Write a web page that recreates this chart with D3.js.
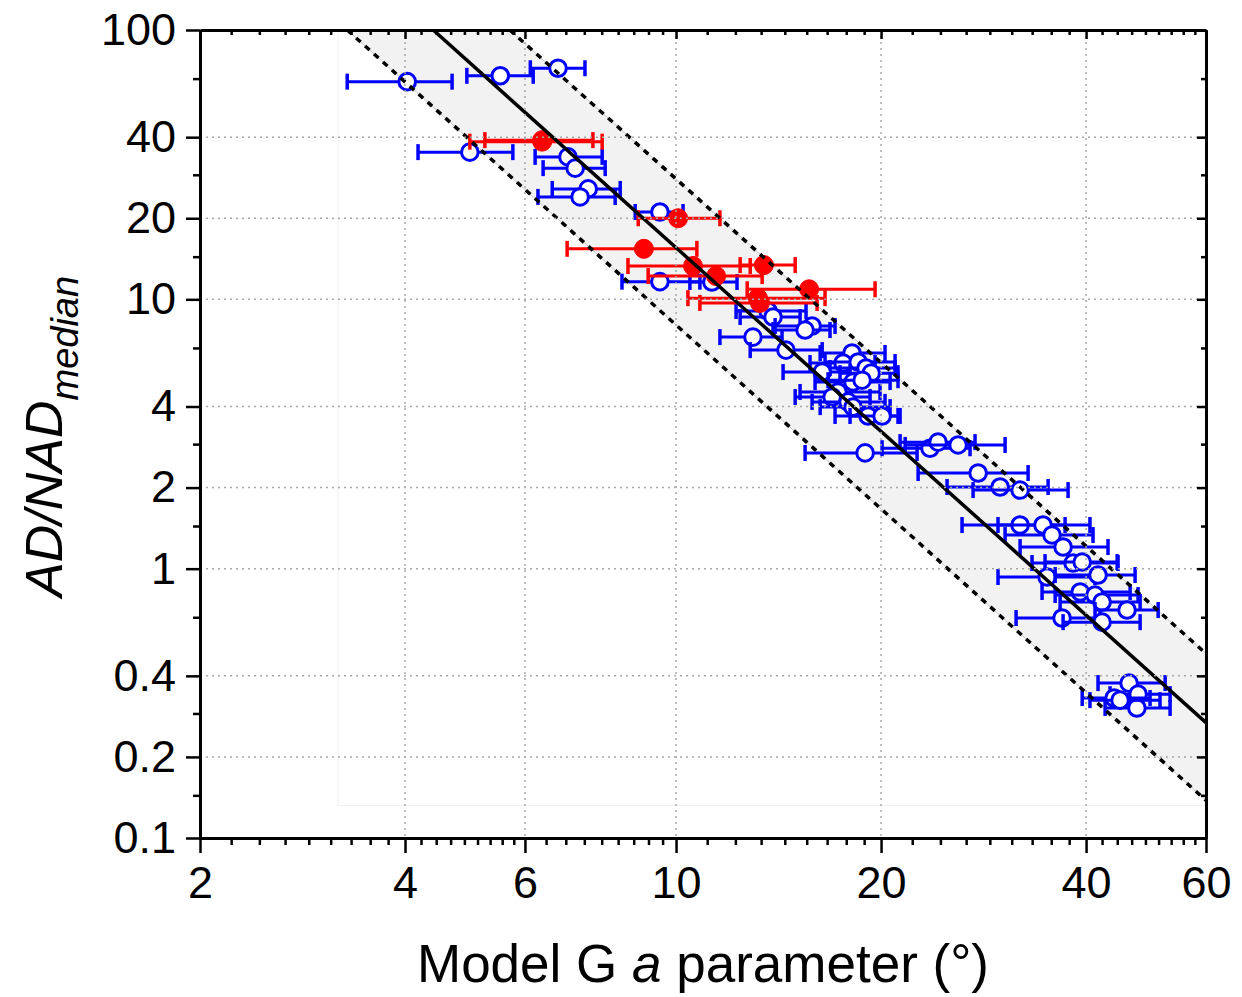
<!DOCTYPE html>
<html>
<head>
<meta charset="utf-8">
<title>AD/NAD vs Model G a</title>
<script src="https://d3js.org/d3.v7.min.js"></script>
<style>
  body { margin: 0; background: #fff; }
  svg { font-family: "Liberation Sans", Arial, sans-serif; }
</style>
</head>
<body>
<svg width="1242" height="997"></svg>
<script>
// ---- data ----
// blue open circles: Model G a parameter, AD/NAD, error bar low/high
const blueA  = [4.03, 5.52, 6.71, 4.98, 6.94, 7.11, 7.43, 7.23, 9.47, 9.47, 11.29, 13.65, 13.88, 15.84, 15.47, 12.97, 14.50,
                18.13, 17.59, 18.51, 19.01, 19.34, 16.39, 18.19, 18.76, 17.29, 16.95, 17.89, 18.19, 19.14, 20.07, 18.95,
                23.60, 24.25, 25.95, 27.77, 29.91, 32.00, 32.00, 34.58, 35.65, 37.01, 38.28, 39.48, 35.06, 41.65, 39.21,
                41.23, 42.22, 45.94, 36.88, 42.22, 46.26, 47.69, 43.98, 47.5, 44.87];
const blueAD = [64.3, 67.6, 72.1, 35.2, 33.8, 30.7, 25.7, 24.0, 21.1, 11.63, 11.60, 9.05, 8.60, 7.96, 7.69, 7.24, 6.48,
                6.32, 5.80, 5.85, 5.56, 5.32, 5.37, 4.93, 5.01, 4.53, 4.34, 4.16, 3.98, 3.69, 3.69, 2.69,
                2.80, 2.95, 2.88, 2.265, 2.01, 1.958, 1.452, 1.452, 1.333, 1.203, 1.049, 1.058, 0.931, 0.947, 0.819,
                0.798, 0.752, 0.702, 0.656, 0.633, 0.376, 0.342, 0.331, 0.304, 0.325];
const blueLo = [3.29, 4.93, 6.11, 4.18, 6.21, 6.38, 6.58, 6.27, 8.71, 8.33, 10.48, 12.25, 12.42, 13.98, 13.88, 11.60, 12.85,
                16.28, 15.73, 16.55, 16.83, 17.41, 14.36, 16.00, 16.72, 15.21, 14.96, 15.84, 16.28, 17.12, 18.01, 15.47,
                20.07, 21.33, 21.70, 22.67, 25.00, 27.30, 26.30, 29.70, 30.42, 32.00, 33.32, 34.82, 29.70, 36.03, 34.47,
                36.03, 36.64, 41.23, 31.57, 37.01, 41.65, 43.38, 39.48, 42.66, 40.53];
const blueHi = [4.69, 6.17, 7.35, 5.76, 7.79, 7.87, 8.28, 8.14, 10.24, 10.84, 12.29, 15.52, 15.21, 17.12, 16.83, 14.31, 16.39,
                20.27, 19.60, 20.97, 20.97, 21.18, 18.01, 20.62, 21.18, 19.93, 19.27, 20.27, 20.62, 21.18, 21.33, 22.59,
                27.02, 27.48, 30.42, 32.88, 35.18, 37.64, 37.26, 40.53, 40.95, 43.08, 44.57, 44.43, 41.23, 47.21, 46.42,
                47.69, 48.02, 51.04, 41.94, 48.02, 52.26, 53.14, 49.66, 53.14, 51.36];

// red filled circles
const redA  = [6.36, 6.36, 10.07, 8.97, 10.59, 13.46, 11.45, 15.68, 13.19, 13.28];
const redAD = [38.5, 39.0, 20.0, 15.4, 13.3, 13.4, 12.2, 10.9, 10.1, 9.7];
const redLo = [4.98, 5.24, 8.80, 6.92, 8.50, 12.42, 9.10, 12.72, 10.41, 10.84];
const redHi = [7.79, 7.55, 11.60, 10.73, 12.85, 14.96, 13.38, 19.60, 16.55, 16.11];

// fit line and the two dotted bounds, [a, AD/NAD] end points
const fitLine   = [[4.40, 100], [60, 0.268]];
const upperLine = [[5.70, 100], [60, 0.484]];
const lowerLine = [[3.29, 100], [60, 0.138]];
const bandBox   = [[3.19, 100], [60, 0.132]];

// ticks
const xMajor = [2, 4, 6, 10, 20, 40, 60];
const xLabels = ["2", "4", "6", "10", "20", "40", "60"];
const yMajor = [0.1, 0.2, 0.4, 1, 2, 4, 10, 20, 40, 100];
const yLabels = ["0.1", "0.2", "0.4", "1", "2", "4", "10", "20", "40", "100"];
const yMinor = [0.144, 0.29, 0.66, 1.44, 2.9, 6.6, 14.4, 29, 66];

// ---- layout ----
const margin = {top: 30, right: 36, bottom: 159, left: 200};
const width = 1242 - margin.left - margin.right,
      height = 997 - margin.top - margin.bottom;

const svg = d3.select("svg");
const g = svg.append("g")
    .attr("transform", `translate(${margin.left},${margin.top})`);

const x = d3.scaleLog().domain([2, 60]).range([0, width]);
const y = d3.scaleLog().domain([0.1, 100]).range([height, 0]);

// 8 minor ticks between each pair of major x ticks
const xMinor = [];
for (let i = 0; i < xMajor.length - 1; i++) {
    const a = xMajor[i], b = xMajor[i + 1];
    for (let k = 1; k < 9; k++) xMinor.push(a + (b - a) * k / 9);
}

g.append("clipPath").attr("id", "plot")
  .append("rect").attr("width", width).attr("height", height);

const plot = g.append("g").attr("clip-path", "url(#plot)");

// faint box behind the band
plot.append("rect")
    .attr("x", x(bandBox[0][0]))
    .attr("y", y(bandBox[0][1]))
    .attr("width", x(bandBox[1][0]) - x(bandBox[0][0]))
    .attr("height", y(bandBox[1][1]) - y(bandBox[0][1]))
    .attr("fill", "none")
    .attr("stroke", "#efefef")
    .attr("stroke-width", 1);

// shaded band between bounds
const bandPts = [upperLine[0], upperLine[1], lowerLine[1], lowerLine[0]];
plot.append("path")
    .attr("d", d3.line().x(d => x(d[0])).y(d => y(d[1]))(bandPts) + "Z")
    .attr("fill", "#f2f2f2")
    .attr("stroke", "#c8c8c8")
    .attr("stroke-width", 1);

// grid
g.append("g").selectAll("line")
    .data(xMajor.slice(1, -1))
    .join("line")
    .attr("x1", d => x(d)).attr("x2", d => x(d))
    .attr("y1", 0).attr("y2", height)
    .attr("stroke", "#a8a8a8").attr("stroke-width", 1.5)
    .attr("stroke-dasharray", "2,4");

g.append("g").selectAll("line")
    .data(yMajor.slice(1, -1))
    .join("line")
    .attr("y1", d => y(d)).attr("y2", d => y(d))
    .attr("x1", 0).attr("x2", width)
    .attr("stroke", "#a8a8a8").attr("stroke-width", 1.5)
    .attr("stroke-dasharray", "2,4");

// points with horizontal error bars
function drawSeries(A, AD, lo, hi, color, filled) {
    const pts = d3.range(A.length).map(i => ({a: A[i], v: AD[i], lo: lo[i], hi: hi[i]}));
    const cap = 8;
    const sg = plot.append("g");
    pts.forEach(d => {
        const p = sg.append("g");
        const yy = y(d.v);
        p.append("line")
            .attr("x1", x(d.lo)).attr("x2", x(d.hi))
            .attr("y1", yy).attr("y2", yy)
            .attr("stroke", color).attr("stroke-width", 3);
        [d.lo, d.hi].forEach(e => {
            p.append("line")
                .attr("x1", x(e)).attr("x2", x(e))
                .attr("y1", yy - cap).attr("y2", yy + cap)
                .attr("stroke", color).attr("stroke-width", 3.5);
        });
        p.append("circle")
            .attr("cx", x(d.a)).attr("cy", yy)
            .attr("r", filled ? 9.5 : 8.3)
            .attr("fill", filled ? color : "#fff")
            .attr("stroke", color)
            .attr("stroke-width", filled ? 1 : 3);
    });
}

drawSeries(blueA, blueAD, blueLo, blueHi, "#0000ff", false);
drawSeries(redA, redAD, redLo, redHi, "#ff0000", true);

// fit and bounds
const line = d3.line().x(d => x(d[0])).y(d => y(d[1]));
plot.append("path").attr("d", line(fitLine))
    .attr("fill", "none").attr("stroke", "#000").attr("stroke-width", 3.5);
[upperLine, lowerLine].forEach(l => {
    plot.append("path").attr("d", line(l))
        .attr("fill", "none").attr("stroke", "#000").attr("stroke-width", 3.5)
        .attr("stroke-dasharray", "6,6");
});

// ---- axes ----
function styleAxis(sel) {
    sel.selectAll("path.domain").attr("stroke", "#000").attr("stroke-width", 3);
    sel.selectAll(".tick line").attr("stroke", "#000").attr("stroke-width", 2.5);
    sel.selectAll(".tick text").attr("fill", "#000").style("font-size", "45px")
        .style("font-family", "'Liberation Sans', Arial, sans-serif");
}

g.append("g")
    .attr("transform", `translate(0,${height})`)
    .call(d3.axisBottom(x).tickValues(xMajor).tickFormat((d, i) => xLabels[i])
        .tickSize(15).tickSizeOuter(0).tickPadding(13))
    .call(styleAxis);
g.append("g")
    .attr("transform", `translate(0,${height})`)
    .call(d3.axisBottom(x).tickValues(xMinor).tickFormat("").tickSize(7).tickSizeOuter(0))
    .call(styleAxis).call(s => s.select(".domain").remove());

g.append("g")
    .call(d3.axisLeft(y).tickValues(yMajor).tickFormat((d, i) => yLabels[i])
        .tickSize(14).tickSizeOuter(0).tickPadding(10))
    .call(styleAxis);
g.append("g")
    .call(d3.axisLeft(y).tickValues(yMinor).tickFormat("").tickSize(7).tickSizeOuter(0))
    .call(styleAxis).call(s => s.select(".domain").remove());

// top and right: inward ticks, no labels
g.append("g")
    .call(d3.axisTop(x).tickValues(xMajor).tickFormat("").tickSize(-9).tickSizeOuter(0))
    .call(styleAxis);
g.append("g")
    .call(d3.axisTop(x).tickValues(xMinor).tickFormat("").tickSize(-5).tickSizeOuter(0))
    .call(styleAxis).call(s => s.select(".domain").remove());
g.append("g")
    .attr("transform", `translate(${width},0)`)
    .call(d3.axisRight(y).tickValues(yMajor).tickFormat("").tickSize(-9).tickSizeOuter(0))
    .call(styleAxis);
g.append("g")
    .attr("transform", `translate(${width},0)`)
    .call(d3.axisRight(y).tickValues(yMinor).tickFormat("").tickSize(-5).tickSizeOuter(0))
    .call(styleAxis).call(s => s.select(".domain").remove());

// ---- titles ----
const xt = svg.append("text")
    .attr("x", margin.left + width / 2)
    .attr("y", 982)
    .attr("text-anchor", "middle")
    .style("font-size", "53px")
    .attr("fill", "#000");
xt.append("tspan").text("Model G ");
xt.append("tspan").style("font-style", "italic").text("a");
xt.append("tspan").text(" parameter (°)");

const yt = svg.append("text")
    .attr("transform", "translate(62,597) rotate(-90)")
    .style("font-size", "52px")
    .style("font-style", "italic")
    .attr("fill", "#000");
yt.append("tspan").text("AD/NAD");
yt.append("tspan").style("font-size", "38px").attr("dy", 16).text("median");
</script>
</body>
</html>
